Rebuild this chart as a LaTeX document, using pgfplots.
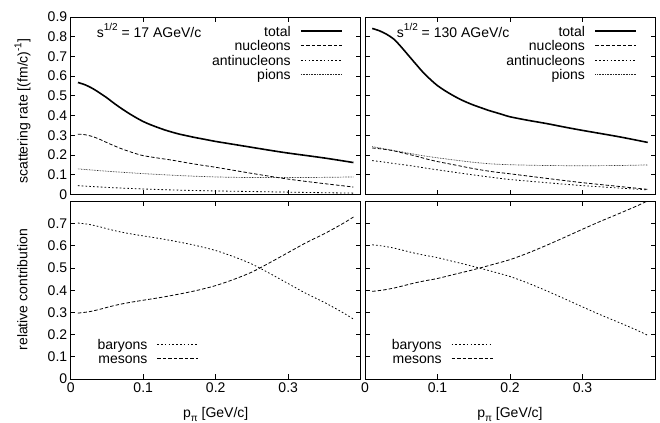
\documentclass[border=0pt]{standalone}
\usepackage{fontspec}
\setmainfont{Liberation Sans}
\usepackage{pgfplots}
\pgfplotsset{compat=1.18}

\newcommand{\fs}{\fontsize{14bp}{16bp}\selectfont}
\newcommand{\upper}[1]{\raisebox{0.45em}{\fontsize{10bp}{12bp}\selectfont #1}}
\newcommand{\lowr}[1]{\raisebox{-0.25em}{\fontsize{10bp}{12bp}\selectfont #1}}

\pgfplotsset{
  panel/.style={
    scale only axis, width=290bp, height=177.5bp,
    xmin=0, xmax=0.4, ymin=0,
    xtick={0,0.1,0.2,0.3},
    tick align=inside, major tick length=4.5bp,
    axis line style={line width=0.9bp},
    every tick/.style={line width=0.9bp, black},
    font=\fs, ticklabel style={font=\fs},
    /pgf/number format/assume math mode=true,
    /pgf/number format/fixed,
    legend plot pos=right, legend cell align=right,
    legend style={draw=none, fill=none, inner sep=0pt, row sep=1.5bp, column sep=9.5bp,
      nodes={inner sep=0pt, text height=11.5bp, text depth=1.5bp}},
    legend image code/.code={\draw[##1] (0bp,0bp) -- (41bp,0bp);},
  },
  toprow/.style={panel, ymax=0.9, ytick={0,0.1,...,0.9}, xticklabels={},
    legend style={at={(rel axis cs:1,1)}, anchor=north east, xshift=-17.7bp, yshift=-7.5bp}},
  botrow/.style={panel, ymax=0.8, ytick={0,0.1,...,0.7},
    xlabel={p\lowr{π} [GeV/c]},
    xlabel style={at={(axis description cs:0.5,-0.2)}, anchor=center},
    legend style={at={(rel axis cs:0.442,0.2345)}, anchor=north east}},
  tot/.style={black, line width=1.6bp, smooth},
  dsh/.style={black, line width=0.8bp, dash pattern=on 3.5bp off 2bp, smooth},
  dtt/.style={black, line width=0.8bp, dash pattern=on 1.6bp off 2.2bp, smooth},
  fin/.style={black!85, line width=0.7bp, dash pattern=on 0.7bp off 0.9bp, smooth},
}

\begin{document}
\begin{tikzpicture}
\path[use as bounding box] (0,0) rectangle (660bp,423bp);

% top left
\begin{axis}[toprow, at={(70.7bp,228.5bp)}, anchor=south west,
  ylabel={scattering rate [(fm/c)\upper{-1}]},
  ylabel style={at={(axis description cs:-0.166,0.47)}, anchor=center}]
\addplot[tot] coordinates {(0.01,0.568) (0.02,0.556) (0.03,0.538) (0.04,0.515) (0.05,0.490) (0.06,0.462) (0.07,0.436) (0.08,0.412) (0.09,0.390) (0.10,0.370) (0.11,0.354) (0.12,0.340) (0.13,0.327) (0.14,0.316) (0.15,0.306) (0.16,0.298) (0.17,0.290) (0.18,0.283) (0.19,0.276) (0.20,0.269) (0.225,0.254) (0.25,0.239) (0.275,0.224) (0.30,0.210) (0.35,0.185) (0.39,0.162)};
\addlegendentry{total}
\addplot[dsh] coordinates {(0.01,0.306) (0.02,0.303) (0.03,0.294) (0.04,0.280) (0.05,0.263) (0.06,0.247) (0.07,0.232) (0.08,0.219) (0.09,0.207) (0.10,0.197) (0.12,0.185) (0.14,0.174) (0.16,0.161) (0.18,0.149) (0.20,0.138) (0.25,0.107) (0.30,0.078) (0.35,0.055) (0.39,0.038)};
\addlegendentry{nucleons}
\addplot[dtt] coordinates {(0.01,0.045) (0.05,0.036) (0.10,0.028) (0.15,0.022) (0.20,0.018) (0.25,0.015) (0.30,0.012) (0.35,0.009) (0.39,0.007)};
\addlegendentry{antinucleons}
\addplot[fin] coordinates {(0.01,0.130) (0.05,0.118) (0.10,0.106) (0.15,0.096) (0.20,0.089) (0.25,0.086) (0.30,0.086) (0.35,0.087) (0.39,0.089)};
\addlegendentry{pions}
\node[anchor=base west, font=\fs] at (rel axis cs:0.078,0.887) {s\upper{1/2} = 17 AGeV/c};
\end{axis}

% top right
\begin{axis}[toprow, at={(365bp,228.5bp)}, anchor=south west, yticklabels={}]
\addplot[tot] coordinates {(0.01,0.842) (0.02,0.830) (0.03,0.812) (0.04,0.787) (0.05,0.748) (0.06,0.705) (0.07,0.662) (0.08,0.620) (0.09,0.584) (0.10,0.552) (0.11,0.527) (0.12,0.505) (0.13,0.485) (0.14,0.468) (0.15,0.453) (0.16,0.440) (0.17,0.427) (0.18,0.416) (0.19,0.405) (0.20,0.394) (0.225,0.376) (0.25,0.360) (0.275,0.342) (0.30,0.325) (0.35,0.293) (0.39,0.264)};
\addlegendentry{total}
\addplot[dsh] coordinates {(0.01,0.236) (0.025,0.230) (0.04,0.221) (0.055,0.208) (0.07,0.195) (0.085,0.180) (0.10,0.167) (0.125,0.149) (0.15,0.131) (0.175,0.116) (0.20,0.105) (0.25,0.082) (0.30,0.060) (0.35,0.041) (0.39,0.026)};
\addlegendentry{nucleons}
\addplot[dtt] coordinates {(0.01,0.172) (0.025,0.165) (0.04,0.157) (0.055,0.150) (0.07,0.142) (0.085,0.133) (0.10,0.125) (0.125,0.112) (0.15,0.099) (0.175,0.087) (0.20,0.076) (0.25,0.060) (0.30,0.045) (0.35,0.033) (0.39,0.023)};
\addlegendentry{antinucleons}
\addplot[fin] coordinates {(0.01,0.243) (0.025,0.233) (0.04,0.223) (0.055,0.213) (0.07,0.203) (0.085,0.194) (0.10,0.186) (0.125,0.174) (0.15,0.163) (0.175,0.155) (0.20,0.151) (0.25,0.147) (0.30,0.146) (0.35,0.147) (0.39,0.150)};
\addlegendentry{pions}
\node[anchor=base west, font=\fs] at (rel axis cs:0.098,0.887) {s\upper{1/2} = 130 AGeV/c};
\end{axis}

% bottom left
\begin{axis}[botrow, at={(70.7bp,44bp)}, anchor=south west,
  ylabel={relative contribution},
  ylabel style={at={(axis description cs:-0.167,0.503)}, anchor=center}]
\addplot[dtt] coordinates {(0.01,0.703) (0.025,0.697) (0.04,0.686) (0.055,0.673) (0.07,0.662) (0.085,0.653) (0.10,0.645) (0.125,0.632) (0.15,0.617) (0.175,0.600) (0.20,0.579) (0.225,0.551) (0.25,0.518) (0.275,0.475) (0.30,0.430) (0.325,0.385) (0.35,0.345) (0.375,0.300) (0.39,0.270)};
\addlegendentry{baryons}
\addplot[dsh] coordinates {(0.01,0.297) (0.025,0.303) (0.04,0.314) (0.055,0.327) (0.07,0.338) (0.085,0.347) (0.10,0.355) (0.125,0.368) (0.15,0.383) (0.175,0.400) (0.20,0.421) (0.225,0.449) (0.25,0.482) (0.275,0.525) (0.30,0.570) (0.325,0.615) (0.35,0.655) (0.375,0.700) (0.39,0.730)};
\addlegendentry{mesons}
\end{axis}

% bottom right
\begin{axis}[botrow, at={(365bp,44bp)}, anchor=south west, yticklabels={}]
\addplot[dtt] coordinates {(0.01,0.605) (0.025,0.599) (0.04,0.590) (0.055,0.578) (0.07,0.566) (0.085,0.556) (0.10,0.547) (0.125,0.527) (0.15,0.507) (0.175,0.485) (0.20,0.462) (0.225,0.432) (0.25,0.398) (0.275,0.362) (0.30,0.325) (0.325,0.289) (0.35,0.255) (0.375,0.220) (0.39,0.197)};
\addlegendentry{baryons}
\addplot[dsh] coordinates {(0.01,0.395) (0.025,0.401) (0.04,0.410) (0.055,0.422) (0.07,0.434) (0.085,0.444) (0.10,0.453) (0.125,0.473) (0.15,0.493) (0.175,0.515) (0.20,0.538) (0.225,0.568) (0.25,0.602) (0.275,0.638) (0.30,0.675) (0.325,0.711) (0.35,0.745) (0.375,0.780) (0.39,0.803)};
\addlegendentry{mesons}
\end{axis}
\end{tikzpicture}
\end{document}
